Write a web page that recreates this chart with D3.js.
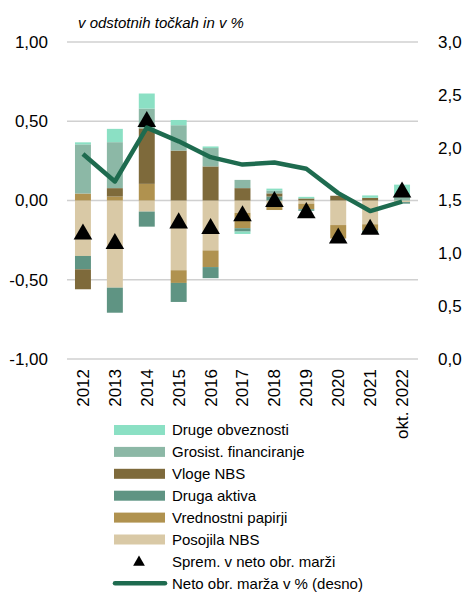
<!DOCTYPE html>
<html>
<head>
<meta charset="utf-8">
<script src="https://cdn.jsdelivr.net/npm/d3@7"></script>
<style>
  body { margin: 0; background: #fff; }
  text { font-family: "Liberation Sans", Arial, sans-serif; fill: #000; }
</style>
</head>
<body>
<svg id="chart" width="465" height="592"></svg>
<script>
// categories
const years = ['2012', '2013', '2014', '2015', '2016', '2017', '2018', '2019', '2020', '2021', 'okt. 2022'];

// stacked components (left axis, percentage points)
const posojilaNBS   = [-0.35, -0.55, -0.07, -0.44, -0.315, -0.078, -0.03, -0.02, -0.155, -0.15, -0.01];
const vrednostni    = [0.044, 0.025, 0.105, -0.08, -0.105, -0.097, -0.03, -0.035, -0.085, -0.04, 0];
const drugaAktiva   = [-0.084, -0.158, -0.095, -0.12, -0.07, -0.021, 0.025, -0.01, 0, -0.015, -0.01];
const vlogeNBS      = [-0.126, 0.053, 0.35, 0.315, 0.215, 0.078, 0.02, 0.013, 0.03, 0.017, 0];
const grosist       = [0.31, 0.29, 0.125, 0.16, 0.116, 0.052, 0.018, 0, 0, 0, 0.03];
const drugeObv      = [0.013, 0.084, 0.095, 0.033, 0.01, -0.015, 0.012, 0.01, 0, 0.015, 0.07];

// change in net interest margin (triangles, left axis)
const sprem = [-0.2, -0.26, 0.51, -0.13, -0.165, -0.085, 0.005, -0.065, -0.225, -0.17, 0.065];
// net interest margin in % (line, right axis)
const marza = [1.94, 1.68, 2.19, 2.06, 1.91, 1.84, 1.86, 1.80, 1.57, 1.40, 1.49];

const leftTicks = [1, 0.5, 0, -0.5, -1];
const rightTicks = [3, 2.5, 2, 1.5, 1, 0.5, 0];

const series = [
  { key: 'posojila', name: 'Posojila NBS', values: posojilaNBS, color: '#d9c9a6' },
  { key: 'vrednostni', name: 'Vrednostni papirji', values: vrednostni, color: '#b0924f' },
  { key: 'druga', name: 'Druga aktiva', values: drugaAktiva, color: '#5f9483' },
  { key: 'vloge', name: 'Vloge NBS', values: vlogeNBS, color: '#7e6a3b' },
  { key: 'grosist', name: 'Grosist. financiranje', values: grosist, color: '#8cb8a6' },
  { key: 'drugeObv', name: 'Druge obveznosti', values: drugeObv, color: '#8be0c4' }
];
const lineColor = '#1e6b4f';

const table = years.map((y, i) => {
  const row = { year: y };
  series.forEach(s => { row[s.key] = s.values[i]; });
  return row;
});

const svg = d3.select('#chart');
const fmt2 = d3.format('.2f');
const fmt1 = d3.format('.1f');
const comma = s => s.replace('.', ',');

const x = d3.scaleBand().domain(years).range([67, 418]).paddingInner(0.5).paddingOuter(0.25);
const y = d3.scaleLinear().domain([-1, 1]).range([359, 42]);
const y2 = d3.scaleLinear().domain([0, 3]).range([359, 42]);

// gridlines
svg.append('g').selectAll('line').data(leftTicks).join('line')
  .attr('x1', 67).attr('x2', 418)
  .attr('y1', d => y(d)).attr('y2', d => y(d))
  .attr('stroke', '#d0d0d0').attr('stroke-width', 1.5);

// left axis
const yAxis = svg.append('g').attr('transform', 'translate(48,0)')
  .call(d3.axisLeft(y).tickValues(leftTicks).tickSize(0).tickPadding(0)
    .tickFormat(d => comma(fmt2(d)).replace('−', '-')));
yAxis.select('.domain').remove();
yAxis.selectAll('text').style('font-size', '17px').attr('font-family', null);

// right axis
const y2Axis = svg.append('g').attr('transform', 'translate(438,0)')
  .call(d3.axisRight(y2).tickValues(rightTicks).tickSize(0).tickPadding(0)
    .tickFormat(d => comma(fmt1(d))));
y2Axis.select('.domain').remove();
y2Axis.selectAll('text').style('font-size', '17px').attr('font-family', null);

// x labels
const xAxis = svg.append('g').attr('transform', 'translate(0,369)')
  .call(d3.axisBottom(x).tickSize(0).tickPadding(0));
xAxis.select('.domain').remove();
xAxis.selectAll('text')
  .style('font-size', '17px').attr('font-family', null)
  .attr('transform', 'rotate(-90)')
  .attr('text-anchor', 'end')
  .attr('x', 0).attr('y', 0).attr('dy', '0.35em');

// stacked bars
const stack = d3.stack().keys(series.map(s => s.key)).offset(d3.stackOffsetDiverging);
const layers = stack(table);
svg.append('g').selectAll('g').data(layers).join('g')
  .attr('fill', (d, i) => series[i].color)
  .selectAll('rect').data(d => d).join('rect')
  .attr('x', d => x(d.data.year))
  .attr('width', x.bandwidth())
  .attr('y', d => y(Math.max(d[0], d[1])))
  .attr('height', d => Math.abs(y(d[0]) - y(d[1])));

// triangles
const tri = d3.symbol().type(d3.symbolTriangle).size(150);
svg.append('g').selectAll('path').data(sprem).join('path')
  .attr('d', tri)
  .attr('transform', (d, i) => `translate(${x(years[i]) + x.bandwidth() / 2},${y(d) + 2})`)
  .attr('fill', '#000');

// margin line
const line = d3.line()
  .x((d, i) => x(years[i]) + x.bandwidth() / 2)
  .y(d => y2(d));
svg.append('path').datum(marza)
  .attr('d', line)
  .attr('fill', 'none')
  .attr('stroke', lineColor)
  .attr('stroke-width', 4.5)
  .attr('stroke-linejoin', 'round');

// title
svg.append('text').attr('x', 78).attr('y', 28)
  .style('font-size', '15px').style('font-style', 'italic')
  .text('v odstotnih točkah in v %');

// legend
const legendItems = series.slice().reverse().map(s => ({ name: s.name, color: s.color, type: 'bar' }))
  .concat([
    { name: 'Sprem. v neto obr. marži', type: 'tri' },
    { name: 'Neto obr. marža v % (desno)', type: 'line' }
  ]);
const lg = svg.append('g').selectAll('g').data(legendItems).join('g')
  .attr('transform', (d, i) => `translate(0,${430 + i * 21.9})`);
lg.filter(d => d.type === 'bar').append('rect')
  .attr('x', 114).attr('y', -5).attr('width', 51).attr('height', 10)
  .attr('fill', d => d.color);
lg.filter(d => d.type === 'tri').append('path')
  .attr('d', d3.symbol().type(d3.symbolTriangle).size(60))
  .attr('transform', 'translate(139,1)');
lg.filter(d => d.type === 'line').append('line')
  .attr('x1', 115).attr('x2', 165)
  .attr('stroke', lineColor).attr('stroke-width', 4.5).attr('stroke-linecap', 'round');
lg.append('text').attr('x', 172).attr('dy', '0.35em')
  .style('font-size', '15px')
  .text(d => d.name);
</script>
</body>
</html>
